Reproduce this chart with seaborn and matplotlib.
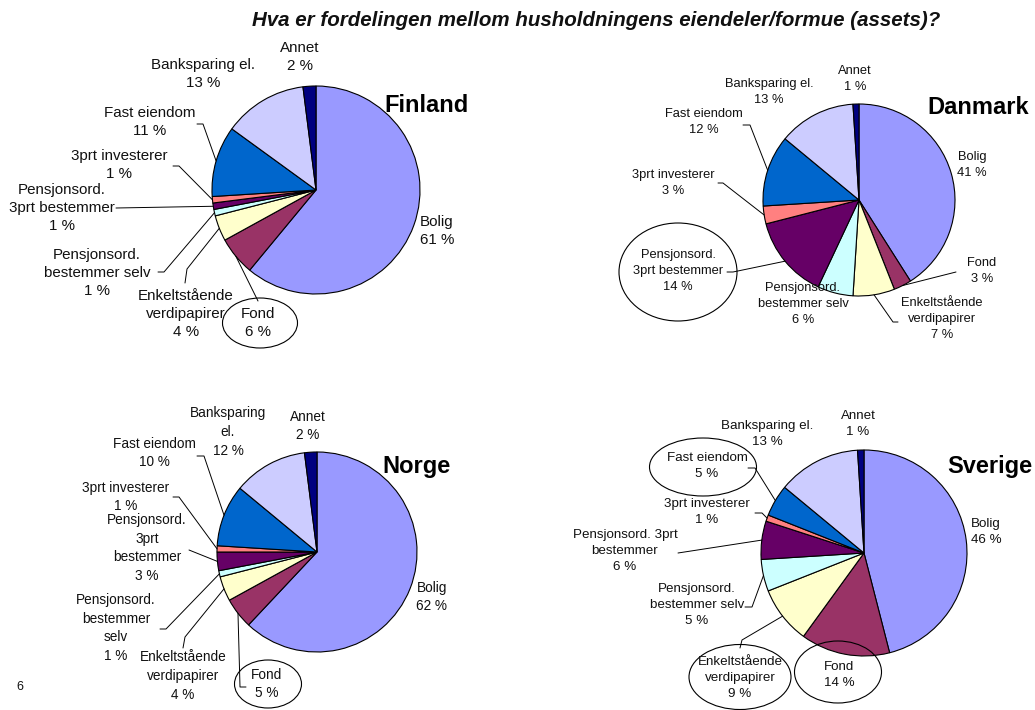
import numpy as np
import matplotlib
matplotlib.use("Agg")
import matplotlib.pyplot as plt
from matplotlib.patches import Ellipse
import seaborn as sns

# slice order, clockwise from 12 o'clock
categories = ["Bolig", "Fond", "Enkeltstående verdipapirer", "Pensjonsord. bestemmer selv",
              "Pensjonsord. 3prt bestemmer", "3prt investerer", "Fast eiendom",
              "Banksparing el.", "Annet"]
finland = [61, 6, 4, 1, 1, 1, 11, 13, 2]
danmark = [41, 3, 7, 6, 14, 3, 12, 13, 1]
norge = [62, 5, 4, 1, 3, 1, 10, 12, 2]
sverige = [46, 14, 9, 5, 6, 1, 5, 13, 1]
countries = ["Finland", "Danmark", "Norge", "Sverige"]
shares = {"Finland": finland, "Danmark": danmark, "Norge": norge, "Sverige": sverige}

title = "Hva er fordelingen mellom husholdningens eiendeler/formue (assets)?"
page_no = "6"

slice_colors = ["#9999FF", "#993366", "#FFFFCC", "#CCFFFF", "#660066",
                "#FF8080", "#0066CC", "#CCCCFF", "#000080"]

W, H = 1035, 710


def py(y):
    # pixel row (from top) -> data y
    return H - y


base_names = ["Bolig", "Fond", "Enkeltstående\nverdipapirer", "Pensjonsord.\nbestemmer selv",
              "Pensjonsord.\n3prt bestemmer", "3prt investerer", "Fast eiendom",
              "Banksparing el.", "Annet"]

layout = {
    "Finland": dict(
        center=(316, 190), r=104, fs=10.9, lsp=1.38, name_pos=(426, 105),
        names=base_names,
        pos=[(437, 231), (258, 323), (186, 314), (97, 273), (62, 208),
             (119, 165), (150, 122), (203, 74), (300, 57)],
        lead={1: [(258, 301)], 2: [(185, 283), (187, 269)], 3: [(158, 272), (164, 272)],
              4: [(116, 208)], 5: [(173, 166), (179, 166)], 6: [(197, 124), (203, 124)]},
        ring={1: (260, 323, 75, 50)},
    ),
    "Danmark": dict(
        center=(859, 200), r=96, fs=9.3, lsp=1.45, name_pos=(978, 107),
        names=base_names,
        pos=[(972, 165), (982, 271), (942, 319), (803, 304), (678, 271),
             (673, 183), (704, 122), (769, 92), (855, 79)],
        lead={1: [(956, 272)], 2: [(898, 322), (893, 322)], 4: [(727, 272), (733, 272)],
              5: [(718, 183), (723, 183)], 6: [(743, 125), (750, 125)]},
        ring={4: (678, 272, 118, 98)},
    ),
    "Norge": dict(
        center=(317, 552), r=100, fs=9.8, lsp=1.45, name_pos=(417, 466),
        names=["Bolig", "Fond", "Enkeltstående\nverdipapirer", "Pensjonsord.\nbestemmer\nselv",
               "Pensjonsord.\n3prt\nbestemmer", "3prt investerer", "Fast eiendom",
               "Banksparing\nel.", "Annet"],
        pos=[(432, 597), (267, 684), (183, 676), (116, 628), (147, 548),
             (126, 497), (154, 453), (228, 432), (308, 426)],
        lead={1: [(246, 687), (240, 687)], 2: [(183, 648), (185, 637)], 3: [(160, 629), (166, 629)],
              4: [(189, 550)], 5: [(173, 497), (179, 497)], 6: [(197, 456), (204, 456)]},
        ring={1: (268, 684, 67, 48)},
    ),
    "Sverige": dict(
        center=(864, 553), r=103, fs=9.6, lsp=1.45, name_pos=(990, 466),
        names=["Bolig", "Fond", "Enkeltstående\nverdipapirer", "Pensjonsord.\nbestemmer selv",
               "Pensjonsord. 3prt\nbestemmer", "3prt investerer", "Fast eiendom",
               "Banksparing el.", "Annet"],
        pos=[(986, 532), (839, 675), (740, 678), (697, 605), (625, 551),
             (707, 512), (707, 466), (767, 434), (858, 424)],
        lead={2: [(740, 648), (742, 640)], 3: [(745, 607), (752, 607)], 4: [(678, 553)],
              5: [(755, 513), (762, 513)], 6: [(748, 468), (755, 468)]},
        ring={1: (838, 672, 87, 62), 2: (740, 677, 102, 65), 6: (703, 467, 107, 58)},
    ),
}

sns.set_theme(style="white")
plt.rcParams["font.family"] = ["Liberation Sans", "DejaVu Sans"]
palette = sns.color_palette(slice_colors)

fig = plt.figure(figsize=(W / 100, H / 100), dpi=100)
ax = fig.add_axes([0, 0, 1, 1])

for country in countries:
    L = layout[country]
    vals = shares[country]
    cx, cy = L["center"]
    r = L["r"]
    ax.pie(vals, colors=palette, startangle=90, counterclock=False,
           center=(cx, py(cy)), radius=r,
           wedgeprops=dict(edgecolor="black", linewidth=0.8))
    nx, ny = L["name_pos"]
    ax.text(nx, py(ny), country, fontsize=17, fontweight="bold",
            ha="center", va="center", color="black")

    cum = np.cumsum([0] + vals[:-1])
    for i, cat in enumerate(categories):
        x, y = L["pos"][i]
        ax.text(x, py(y), f"{L['names'][i]}\n{vals[i]} %", fontsize=L["fs"],
                ha="center", va="center", linespacing=L["lsp"],
                multialignment="center", color="#111111")
        if i in L["lead"]:
            mid = np.deg2rad(90 - 360 * (cum[i] + vals[i] / 2) / 100)
            ex = cx + r * np.cos(mid)
            ey = py(cy) + r * np.sin(mid)
            pts = L["lead"][i]
            xs = [p[0] for p in pts] + [ex]
            ys = [py(p[1]) for p in pts] + [ey]
            ax.plot(xs, ys, color="black", lw=0.7)
        if i in L["ring"]:
            ex_, ey_, ew, eh = L["ring"][i]
            ax.add_patch(Ellipse((ex_, py(ey_)), ew, eh, facecolor="none",
                                 edgecolor="black", lw=0.8))

ax.text(596, py(21), title, fontsize=14.8, fontweight="bold", fontstyle="italic",
        ha="center", va="center", color="#111111")
ax.text(20, py(687), page_no, fontsize=9, ha="center", va="center", color="#111111")

ax.set_xlim(0, W)
ax.set_ylim(0, H)
ax.set_aspect("equal")
ax.axis("off")

fig.savefig("out.png", dpi=100)
